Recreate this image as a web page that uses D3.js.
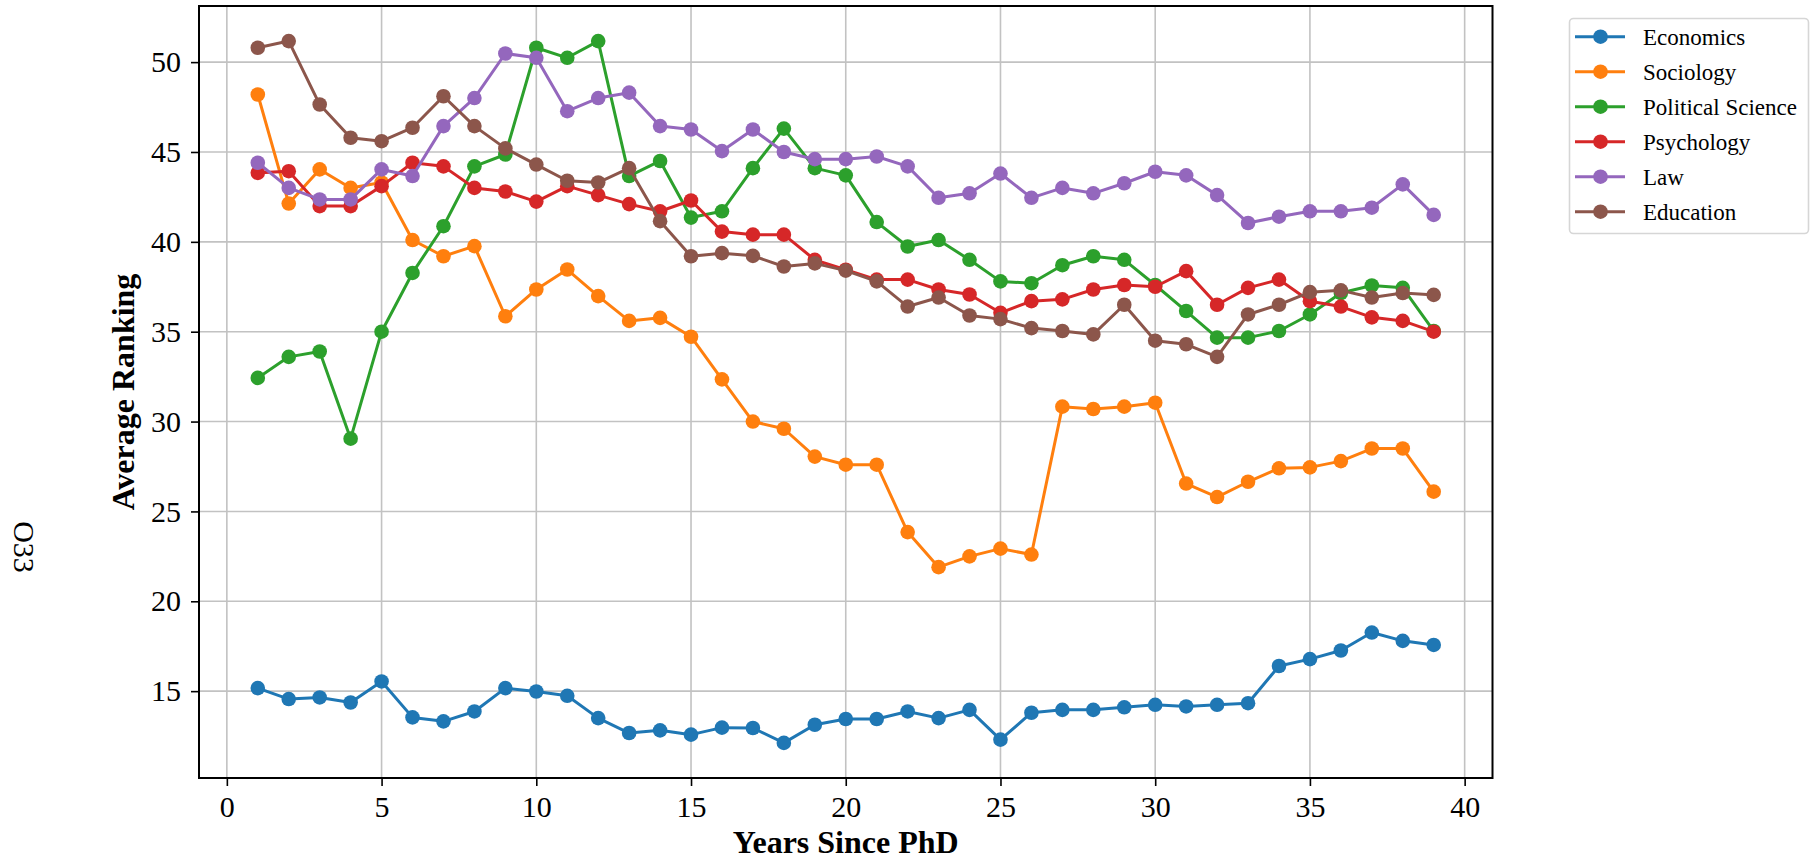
<!DOCTYPE html>
<html>
<head>
<meta charset="utf-8">
<script src="https://cdn.jsdelivr.net/npm/d3@7"></script>
<style>
  html, body { margin: 0; padding: 0; background: #fff; }
  svg { display: block; font-family: "Liberation Serif", "Times New Roman", serif; }
</style>
</head>
<body>
<svg id="chart" width="1817" height="863"></svg>
<script>
// Years since PhD
const years = [1,2,3,4,5,6,7,8,9,10,11,12,13,14,15,16,17,18,19,20,21,22,23,24,25,26,27,28,29,30,31,32,33,34,35,36,37,38,39];

// Average ranking by field
const economics = [15.17,14.56,14.65,14.37,15.54,13.54,13.32,13.87,15.17,14.98,
  14.74,13.5,12.67,12.82,12.58,12.97,12.95,12.12,13.13,13.45,
  13.45,13.87,13.5,13.96,12.3,13.8,13.96,13.96,14.1,14.24,
  14.15,14.24,14.33,16.4,16.78,17.26,18.26,17.8,17.57];
const sociology = [48.2,42.13,44.03,43.0,43.3,40.1,39.2,39.76,35.86,37.35,
  38.46,36.98,35.6,35.77,34.72,32.35,30.0,29.6,28.05,27.6,
  27.6,23.85,21.9,22.5,22.93,22.6,30.83,30.7,30.83,31.05,
  26.55,25.8,26.65,27.4,27.45,27.8,28.5,28.5,26.1];
const politicalScience = [32.43,33.6,33.9,29.05,35.0,38.27,40.87,44.2,44.86,50.8,
  50.24,51.17,43.66,44.5,41.35,41.7,44.1,46.3,44.1,43.7,
  41.1,39.74,40.1,39.0,37.8,37.7,38.7,39.2,39.0,37.6,
  36.15,34.67,34.67,35.04,35.96,37.15,37.57,37.44,35.04];
const psychology = [43.84,43.93,41.99,41.99,43.1,44.4,44.2,43.0,42.8,42.24,
  43.1,42.6,42.1,41.7,42.3,40.57,40.4,40.4,39.0,38.45,
  37.9,37.9,37.35,37.07,36.05,36.7,36.8,37.35,37.6,37.5,
  38.37,36.5,37.44,37.9,36.7,36.4,35.8,35.6,35.0];
const law = [44.4,43.0,42.36,42.36,44.03,43.66,46.44,48.0,50.48,50.24,
  47.27,48.0,48.3,46.44,46.25,45.05,46.25,45.0,44.6,44.6,
  44.75,44.2,42.45,42.7,43.8,42.45,43.0,42.7,43.26,43.9,
  43.7,42.6,41.05,41.4,41.7,41.7,41.9,43.2,41.5];
const education = [50.8,51.17,47.64,45.79,45.6,46.35,48.1,46.44,45.2,44.3,
  43.4,43.3,44.1,41.15,39.2,39.37,39.22,38.63,38.8,38.4,
  37.8,36.4,36.9,35.9,35.7,35.2,35.04,34.85,36.5,34.5,
  34.3,33.6,35.96,36.5,37.2,37.3,36.9,37.15,37.05];

const seriesNames = ["Economics","Sociology","Political Science","Psychology","Law","Education"];
const seriesValues = [economics, sociology, politicalScience, psychology, law, education];
const colors = ["#1f77b4","#ff7f0e","#2ca02c","#d62728","#9467bd","#8c564b"];

const xTicks = [0,5,10,15,20,25,30,35,40];
const yTicks = [15,20,25,30,35,40,45,50];

const sideText = "O33";
const xTitle = "Years Since PhD";
const yTitle = "Average Ranking";

// Layout
const plot = { left: 199, right: 1492.5, top: 6, bottom: 778 };
const serif = '"Liberation Serif", "Times New Roman", serif';

// Domains padded by 5% of the data range on each side
function padded(ext) {
  const r = ext[1] - ext[0];
  return [ext[0] - 0.05 * r, ext[1] + 0.05 * r];
}
const xExt = padded(d3.extent(years));
const yExt = padded(d3.extent(seriesValues.flat()));

const x = d3.scaleLinear().domain(xExt).range([plot.left, plot.right]);
const y = d3.scaleLinear().domain(yExt).range([plot.bottom, plot.top]);

const svg = d3.select("#chart");

// Grid
const grid = svg.append("g").attr("class", "grid");
grid.selectAll("line.vx").data(xTicks).join("line")
  .attr("x1", d => x(d)).attr("x2", d => x(d))
  .attr("y1", plot.top).attr("y2", plot.bottom)
  .attr("stroke", "#c2c2c2").attr("stroke-width", 1.6);
grid.selectAll("line.hy").data(yTicks).join("line")
  .attr("x1", plot.left).attr("x2", plot.right)
  .attr("y1", d => y(d)).attr("y2", d => y(d))
  .attr("stroke", "#c2c2c2").attr("stroke-width", 1.6);

// Series: line then markers, drawn in order
const line = d3.line().x((d, i) => x(years[i])).y(d => y(d));
const seriesG = svg.append("g").attr("class", "series");
seriesValues.forEach((vals, k) => {
  const g = seriesG.append("g");
  g.append("path")
    .attr("d", line(vals))
    .attr("fill", "none")
    .attr("stroke", colors[k])
    .attr("stroke-width", 3)
    .attr("stroke-linejoin", "round")
    .attr("stroke-linecap", "square");
  g.selectAll("circle").data(vals).join("circle")
    .attr("cx", (d, i) => x(years[i]))
    .attr("cy", d => y(d))
    .attr("r", 7.3)
    .attr("fill", colors[k]);
});

// Axes
const xAxis = d3.axisBottom(x).tickValues(xTicks).tickFormat(d3.format("d")).tickSize(8).tickPadding(10);
const yAxis = d3.axisLeft(y).tickValues(yTicks).tickFormat(d3.format("d")).tickSize(8).tickPadding(10);

const gx = svg.append("g").attr("transform", `translate(0,${plot.bottom})`).call(xAxis);
const gy = svg.append("g").attr("transform", `translate(${plot.left},0)`).call(yAxis);
[gx, gy].forEach(g => {
  g.attr("font-family", null).attr("font-size", null);
  g.select(".domain").remove();
  g.selectAll(".tick line").attr("stroke", "#000").attr("stroke-width", 1.6);
  g.selectAll(".tick text")
    .attr("fill", "#000")
    .style("font-family", serif)
    .style("font-size", "30px");
});

// Frame
svg.append("rect")
  .attr("x", plot.left).attr("y", plot.top)
  .attr("width", plot.right - plot.left).attr("height", plot.bottom - plot.top)
  .attr("fill", "none").attr("stroke", "#000").attr("stroke-width", 2);

// Axis titles
svg.append("text")
  .attr("x", (plot.left + plot.right) / 2).attr("y", 853)
  .attr("text-anchor", "middle")
  .style("font-family", serif)
  .style("font-size", "32px").style("font-weight", "bold")
  .text(xTitle);

svg.append("text")
  .attr("transform", `translate(134,${(plot.top + plot.bottom) / 2}) rotate(-90)`)
  .attr("text-anchor", "middle")
  .style("font-family", serif)
  .style("font-size", "32px").style("font-weight", "bold")
  .text(yTitle);

// Side label
svg.append("text")
  .attr("transform", `translate(14,547) rotate(90)`)
  .attr("text-anchor", "middle")
  .style("font-family", serif)
  .style("font-size", "30px")
  .text(sideText);

// Legend
const legend = svg.append("g").attr("transform", "translate(1569,18)");
legend.append("rect")
  .attr("x", 0.5).attr("y", 0.5).attr("width", 239).attr("height", 215)
  .attr("rx", 4).attr("ry", 4)
  .attr("fill", "#fff").attr("fill-opacity", 0.8)
  .attr("stroke", "#d6d6d6").attr("stroke-width", 1.6);
const rows = legend.selectAll("g.row").data(seriesNames).join("g")
  .attr("transform", (d, i) => `translate(0,${18.7 + i * 35})`);
rows.append("line")
  .attr("x1", 6).attr("x2", 56).attr("y1", 0).attr("y2", 0)
  .attr("stroke", (d, i) => colors[i]).attr("stroke-width", 3);
rows.append("circle")
  .attr("cx", 31.5).attr("cy", 0).attr("r", 7.3)
  .attr("fill", (d, i) => colors[i]);
rows.append("text")
  .attr("x", 74).attr("y", 0).attr("dy", "0.35em")
  .style("font-family", serif)
  .style("font-size", "23px")
  .text(d => d);
</script>
</body>
</html>
